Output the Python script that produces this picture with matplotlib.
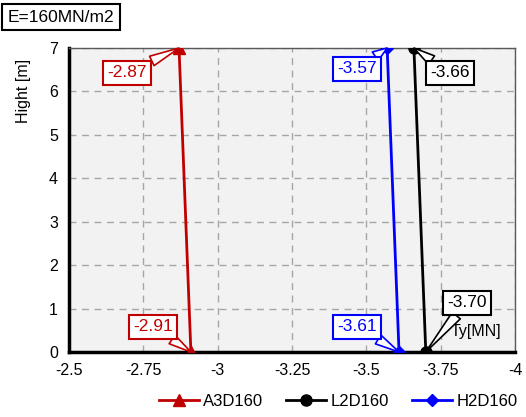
import matplotlib
matplotlib.use("Agg")
import matplotlib.pyplot as plt

# data
hight = [0, 7]
a3d160 = [-2.91, -2.87]
l2d160 = [-3.70, -3.66]
h2d160 = [-3.61, -3.57]
x_ticks = [-2.5, -2.75, -3, -3.25, -3.5, -3.75, -4]
x_labels = ["-2.5", "-2.75", "-3", "-3.25", "-3.5", "-3.75", "-4"]

plt.rcParams['font.family'] = ['Liberation Sans', 'DejaVu Sans']
plt.rcParams['font.size'] = 11.5

fig = plt.figure(figsize=(5.26, 4.17), dpi=100)
ax = fig.add_axes([69 / 526, 1 - 352 / 417, 446 / 526, 304 / 417])
ax.set_facecolor("#f2f2f2")

red = "#c00000"
blue = "#0000ff"
black = "#000000"

ax.plot(a3d160, hight, color=red, marker="^", markersize=8, lw=2, label="A3D160", zorder=5)
ax.plot(l2d160, hight, color=black, marker="o", markersize=8, lw=2, label="L2D160", zorder=5)
ax.plot(h2d160, hight, color=blue, marker="D", markersize=6, lw=2, label="H2D160", zorder=5)

ax.set_xlim(-2.5, -4)
ax.set_ylim(0, 7)
ax.set_xticks(x_ticks)
ax.set_xticklabels(x_labels)
ax.set_yticks(range(0, 8))
ax.tick_params(length=0, pad=8, labelsize=11.5)
ax.grid(True, color="#a6a6a6", ls=(0, (5, 4)), lw=1)
ax.set_axisbelow(True)

for s in ["top", "right"]:
    ax.spines[s].set_color("#595959")
    ax.spines[s].set_linewidth(1)
for s in ["left", "bottom"]:
    ax.spines[s].set_color("black")
    ax.spines[s].set_linewidth(2.5)

ax.set_ylabel("Hight [m]", fontsize=11.5)
ax.yaxis.set_label_coords(-0.085, 0.86)


def callout(text, xy, xytext, col):
    ax.annotate(text, xy=xy, xytext=xytext, color=col, fontsize=12.5,
                ha="center", va="center", zorder=6,
                bbox=dict(boxstyle="square,pad=0.25", fc="white", ec=col, lw=1.5),
                arrowprops=dict(arrowstyle="wedge,tail_width=0.6", fc="white", ec=col, lw=1.2,
                                shrinkA=0, shrinkB=0))


callout("-2.87", (a3d160[1], hight[1]), (-2.695, 6.43), red)
callout("-2.91", (a3d160[0], hight[0]), (-2.783, 0.58), red)
callout("-3.57", (h2d160[1], hight[1]), (-3.469, 6.52), blue)
callout("-3.61", (h2d160[0], hight[0]), (-3.469, 0.58), blue)
callout("-3.66", (l2d160[1], hight[1]), (-3.781, 6.43), black)
callout("-3.70", (l2d160[0], hight[0]), (-3.838, 1.13), black)

ax.text(-3.869, 0.48, "Ty[MN]", fontsize=11.5, ha="center", va="center")

fig.text(61 / 526, 1 - 17 / 417, "E=160MN/m2", fontsize=12.5, ha="center", va="center",
         bbox=dict(boxstyle="square,pad=0.3", fc="white", ec="black", lw=1.5))

fig.legend(loc="center", bbox_to_anchor=(338 / 526, 1 - 401 / 417), ncol=3, frameon=False,
           fontsize=12, handlelength=2.4, columnspacing=1.4, handletextpad=0.25)

fig.savefig("out.png", dpi=100)
